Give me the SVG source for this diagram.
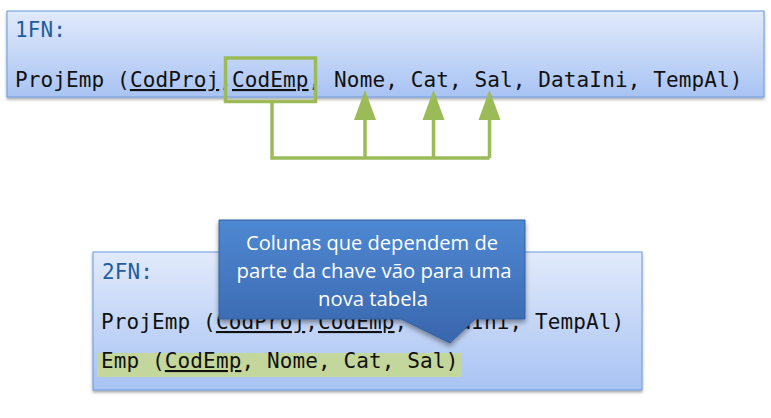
<svg xmlns="http://www.w3.org/2000/svg" width="771" height="418" viewBox="0 0 771 418">
<style>
.box{stroke:#6b9ae0;stroke-width:1;fill:url(#boxg);filter:url(#sh)}
.mono{font-family:"DejaVu Sans Mono","Liberation Mono",monospace;font-size:21px;letter-spacing:0.12px;fill:#111}
.lbl{fill:#1f5c9e}
.u{text-decoration:underline}
.grn{stroke:#9bbb59;stroke-width:3.5;fill:none}
.ah{fill:#9bbb59}
.ct{font-family:"Open Sans","Liberation Sans",sans-serif;font-size:20px;fill:#fff;text-anchor:middle}
</style>
<defs>
<linearGradient id="boxg" x1="0" y1="0" x2="0" y2="1">
<stop offset="0" stop-color="#e1eafb"/>
<stop offset="1" stop-color="#a8c3f3"/>
</linearGradient>
<linearGradient id="cg" x1="0" y1="0" x2="0" y2="1">
<stop offset="0" stop-color="#4f88d2"/>
<stop offset="1" stop-color="#3866ad"/>
</linearGradient>
<filter id="sh" x="-5%" y="-10%" width="110%" height="130%">
<feDropShadow dx="0" dy="2" stdDeviation="1.5" flood-color="#000" flood-opacity="0.35"/>
</filter>
<filter id="sh2" x="-10%" y="-10%" width="120%" height="130%">
<feDropShadow dx="0" dy="3" stdDeviation="2.5" flood-color="#000" flood-opacity="0.4"/>
</filter>
</defs>

<g id="box-1fn">
<rect class="box" x="7" y="11" width="757" height="86"/>
<text class="mono lbl" x="15" y="37">1FN:</text>
<text class="mono" x="15" y="87">ProjEmp (<tspan class="u">CodProj</tspan>,<tspan class="u">CodEmp</tspan>, Nome, Cat, Sal, DataIni, TempAl)</text>
</g>

<g id="key-box">
<rect class="grn" x="225.5" y="58" width="90" height="43.5"/>
</g>

<g id="connectors">
<path class="grn" d="M272,101.5 V158 H489.5"/>
<path class="grn" d="M365,158 V118 M433.5,158 V118 M489.5,158 V118"/>
<polygon class="ah" points="365,90 354,120 376,120"/>
<polygon class="ah" points="433.5,90 422.5,120 444.5,120"/>
<polygon class="ah" points="489.5,90 478.5,120 500.5,120"/>
</g>

<g id="box-2fn">
<rect class="box" x="93" y="252" width="549" height="138"/>
<rect x="97" y="353" width="365" height="24" fill="#c3d69b"/>
<text class="mono lbl" x="102" y="279">2FN:</text>
<text class="mono" x="101" y="329">ProjEmp (<tspan class="u">CodProj</tspan>,<tspan class="u">CodEmp</tspan>, DataIni, TempAl)</text>
<text class="mono" x="101" y="368">Emp (<tspan class="u">CodEmp</tspan>, Nome, Cat, Sal)</text>
</g>

<g id="callout">
<path d="M219,220 H525 V319 H475 L450,343 L401,319 H219 Z" fill="url(#cg)" stroke="#3261a3" stroke-width="1" filter="url(#sh2)"/>
<text class="ct" x="372" y="250" textLength="252" lengthAdjust="spacingAndGlyphs">Colunas que dependem de</text>
<text class="ct" x="374" y="278" textLength="275" lengthAdjust="spacingAndGlyphs">parte da chave vão para uma</text>
<text class="ct" x="373" y="306" textLength="110" lengthAdjust="spacingAndGlyphs">nova tabela</text>
</g>
</svg>
